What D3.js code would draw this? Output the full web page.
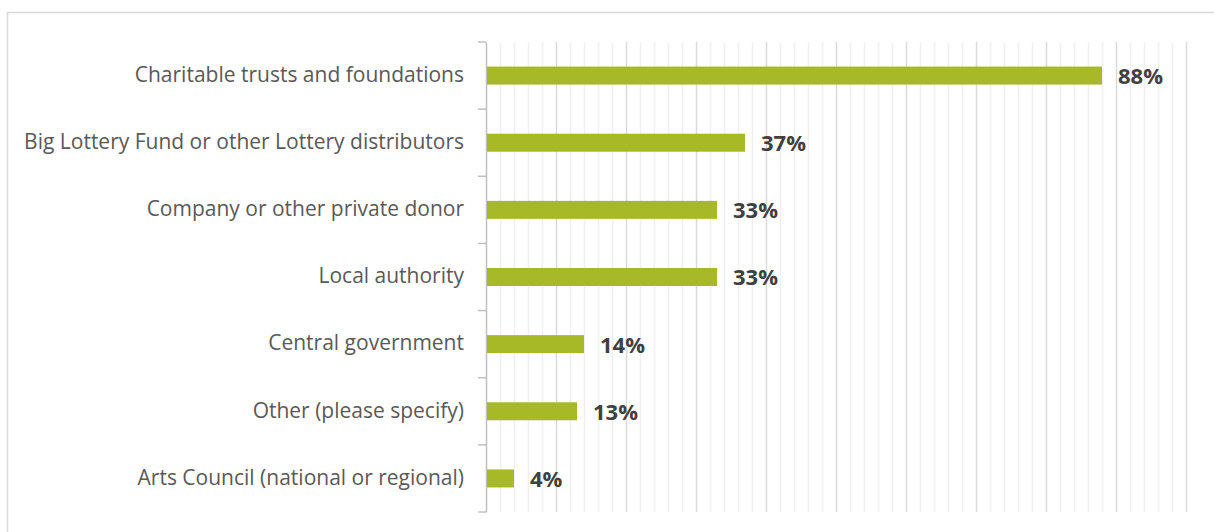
<!DOCTYPE html>
<html>
<head>
<meta charset="utf-8">
<script src="https://cdn.jsdelivr.net/npm/d3@7"></script>
<style>
  html, body { margin: 0; padding: 0; background: #fff; }
  svg { display: block; }
</style>
</head>
<body>
<svg id="chart" width="1214" height="532"></svg>
<script>
// Funding sources, share of respondents (%)
const categories = [
  "Charitable trusts and foundations",
  "Big Lottery Fund or other Lottery distributors",
  "Company or other private donor",
  "Local authority",
  "Central government",
  "Other (please specify)",
  "Arts Council (national or regional)"
];
const values = [88, 37, 33, 33, 14, 13, 4];
const majorTicks = [0, 10, 20, 30, 40, 50, 60, 70, 80, 90, 100];
const minorTicks = d3.range(0, 101, 2).filter(v => v % 10 !== 0);

const svg = d3.select("#chart");
const W = 1214, H = 532;
const margin = { left: 486, top: 42 };

// outer frame
svg.append("rect")
  .attr("x", 7.5).attr("y", 12.5)
  .attr("width", W).attr("height", H)
  .attr("fill", "none").attr("stroke", "#d9d9d9").attr("stroke-width", 1.5);

const x = d3.scaleLinear().domain([0, 100]).range([margin.left, 1186]);
const y = d3.scaleBand().domain(categories).range([margin.top, 512]).paddingInner(0).paddingOuter(0);

// gridlines
svg.append("g").selectAll("line.minor").data(minorTicks).join("line")
  .attr("x1", d => Math.round(x(d)) + 0.5).attr("x2", d => Math.round(x(d)) + 0.5)
  .attr("y1", margin.top).attr("y2", 512)
  .attr("stroke", "#f0f0f0").attr("stroke-width", 1.5);
svg.append("g").selectAll("line.major").data(majorTicks.slice(1)).join("line")
  .attr("x1", d => Math.round(x(d)) + 0.5).attr("x2", d => Math.round(x(d)) + 0.5)
  .attr("y1", margin.top).attr("y2", 512)
  .attr("stroke", "#d9d9d9").attr("stroke-width", 1.5);

// category axis
const yAxis = d3.axisLeft(y).tickSize(0).tickPadding(22);
const gy = svg.append("g").attr("transform", `translate(${margin.left},0)`).call(yAxis);
gy.select(".domain").attr("stroke", "#bfbfbf").attr("stroke-width", 1.5);
gy.selectAll("text")
  .attr("fill", "#595959")
  .attr("dy", "0.3em")
  .style("font-family", "'Open Sans', sans-serif")
  .style("font-size", "21px");
// band boundary ticks
const bounds = categories.map(c => y(c)).concat([y(categories[categories.length - 1]) + y.bandwidth()]);
gy.selectAll("line.bound").data(bounds).join("line")
  .attr("class", "bound")
  .attr("x1", -8).attr("x2", 0)
  .attr("y1", d => d).attr("y2", d => d)
  .attr("stroke", "#bfbfbf").attr("stroke-width", 1.5);

// bars
const barH = 18;
svg.append("g").selectAll("rect").data(categories).join("rect")
  .attr("x", x(0) + 1)
  .attr("y", c => y(c) + y.bandwidth() / 2 - barH / 2)
  .attr("width", (c, i) => x(values[i]) - x(0) - 1)
  .attr("height", barH)
  .attr("fill", "#a8b928");

// value labels
svg.append("g").selectAll("text").data(categories).join("text")
  .attr("x", (c, i) => x(values[i]) + 16)
  .attr("y", c => y(c) + y.bandwidth() / 2)
  .attr("dy", "0.38em")
  .attr("fill", "#404040")
  .style("font-family", "'Open Sans', sans-serif")
  .style("font-weight", "bold")
  .style("font-size", "22px")
  .text((c, i) => values[i] + "%");
</script>
</body>
</html>
